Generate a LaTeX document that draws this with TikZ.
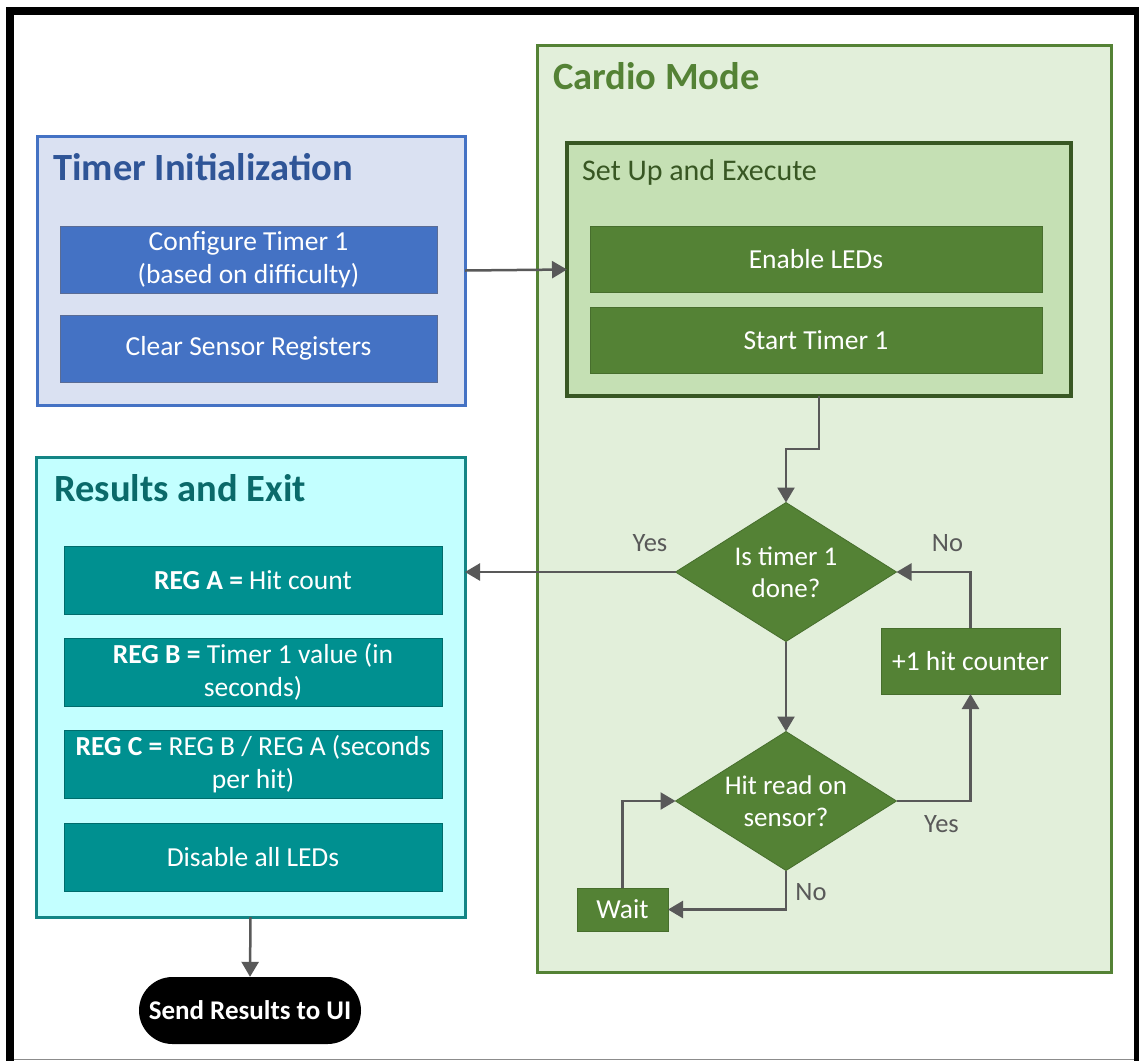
\documentclass[tikz,border=0pt]{standalone}
\usepackage{fontspec}
\setmainfont{Carlito}
\usetikzlibrary{arrows.meta,shapes.geometric,shapes.misc}

\definecolor{blueLight}{HTML}{DAE1F2}
\definecolor{blueEdge}{HTML}{4472C4}
\definecolor{blueBox}{HTML}{4472C4}
\definecolor{blueBoxEdge}{HTML}{5A6C95}
\definecolor{blueTitle}{HTML}{2F5597}
\definecolor{greenLight}{HTML}{E2EFDA}
\definecolor{greenMid}{HTML}{C5E0B4}
\definecolor{greenBox}{HTML}{548235}
\definecolor{greenDark}{HTML}{385723}
\definecolor{tealLight}{HTML}{C3FFFF}
\definecolor{tealEdge}{HTML}{138585}
\definecolor{tealBox}{HTML}{009090}
\definecolor{tealTitle}{HTML}{0A6A6A}
\definecolor{wire}{HTML}{595959}

\begin{document}
\begin{tikzpicture}[x=1pt,y=-1pt,
  panel/.style={draw, line width=3pt, inner sep=0pt, outer sep=0pt},
  paneltitle/.style={anchor=base west, inner sep=0pt, font=\fontsize{38.5}{45}\selectfont\bfseries},
  task/.style={inner sep=0pt, outer sep=0pt, text=white, align=center,
    font=\fontsize{27.5}{33}\selectfont},
  bluetask/.style={task, fill=blueBox, draw=blueBoxEdge, line width=1pt,
    minimum width=377pt, minimum height=67pt},
  greentask/.style={task, fill=greenBox, draw=greenBox!85!black, line width=0.8pt},
  tealtask/.style={task, fill=tealBox, draw=tealBox!75!black, line width=1pt,
    minimum width=378pt, minimum height=68pt},
  decision/.style={task, diamond, fill=greenBox, draw=greenBox!85!black, line width=0.8pt,
    minimum width=221pt, minimum height=139pt, aspect=1.59},
  arr/.style={draw=wire, line width=2.5pt,
    -{Triangle[length=15pt, width=17pt]}},
  lbl/.style={inner sep=0pt, text=wire, font=\fontsize{26.5}{30}\selectfont}
]
\useasboundingbox (0,0) rectangle (1139,1061);
\fill[white] (0,0) rectangle (1139,1061);

% page frame
\fill[black] (6,7) rectangle (1139,15);
\fill[black] (6,7) rectangle (14,1061);
\fill[black] (1134,7) rectangle (1139,1061);
\draw[black!45, line width=1.5pt] (14,1059.5) -- (1134,1059.5);

% ---------- Timer Initialization ----------
\node[panel, draw=blueEdge, fill=blueLight, minimum width=428pt, minimum height=269pt]
  (tinit) at (251,270.5) {};
\node[paneltitle, text=blueTitle] (tinitT) at (53,180) {Timer Initialization};
\node[bluetask] (cfg) at (248.5,259.5) {Configure Timer 1\\(based on difficulty)};
\node[bluetask] (clr) at (248.5,348.5) {Clear Sensor Registers};

% ---------- Cardio Mode ----------
\node[panel, draw=greenBox, fill=greenLight, minimum width=574pt, minimum height=927pt]
  (cardio) at (824,508.5) {};
\node[paneltitle, text=greenBox] (cardioT) at (553,89) {Cardio Mode};
\node[panel, line width=3.5pt, draw=greenDark, fill=greenMid,
  minimum width=504pt, minimum height=253pt] (setup) at (819,269.5) {};
\node[anchor=base west, inner sep=0pt, text=greenDark, font=\fontsize{30}{36}\selectfont]
  (setupT) at (582,180) {Set Up and Execute};
\node[greentask, minimum width=452pt, minimum height=66pt] (leds) at (816,259) {Enable LEDs};
\node[greentask, minimum width=452pt, minimum height=66pt] (start) at (816,340) {Start Timer 1};

\node[decision, font=\fontsize{27}{32}\selectfont] (d1) at (786,572) {Is timer 1\\done?};
\node[decision, font=\fontsize{27}{32}\selectfont] (d2) at (786,801) {Hit read on\\sensor?};
\node[greentask, minimum width=179pt, minimum height=66pt] (hit) at (970.5,661) {+1 hit counter};
\node[greentask, minimum width=91pt, minimum height=43pt] (wait) at (622.5,909.5) {Wait};

% ---------- Results and Exit ----------
\node[panel, draw=tealEdge, fill=tealLight, minimum width=429pt, minimum height=460pt]
  (res) at (250.5,687) {};
\node[paneltitle, text=tealTitle] (resT) at (54,501) {Results and Exit};
\node[tealtask] (rega) at (253,580.5) {\textbf{REG A =} Hit count};
\node[tealtask] (regb) at (253,672) {\textbf{REG B =} Timer 1 value (in\\seconds)};
\node[tealtask] (regc) at (253,764) {\textbf{REG C =} REG B / REG A (seconds\\per hit)};
\node[tealtask] (dis) at (253,857) {Disable all LEDs};

\node[rounded rectangle, fill=black, inner sep=0pt, minimum width=222pt, minimum height=67pt,
  text=white, font=\fontsize{27}{32}\selectfont\bfseries] (send) at (250,1010.5) {Send Results to UI};

% ---------- connectors ----------
\draw[arr] (tinit.east) -- (setup.west);
\draw[arr] (setup.south) -- ++(0,53) -| (d1.north);
\draw[arr] (d1.west) -- (d1.west -| res.east);
\draw[arr] (d1.south) -- (d2.north);
\draw[arr] (d2.east) -| (hit.south);
\draw[arr] (hit.north) |- (d1.east);
\draw[arr] (d2.south) |- (wait.east);
\draw[arr] (wait.north) |- (d2.west);
\draw[arr] (res.south) -- (send.north);

% branch labels
\node[lbl] (yes1) at (650,543) {Yes};
\node[lbl] (no1) at (947.5,543) {No};
\node[lbl] (yes2) at (941.5,824) {Yes};
\node[lbl] (no2) at (811,892.5) {No};
\end{tikzpicture}
\end{document}
